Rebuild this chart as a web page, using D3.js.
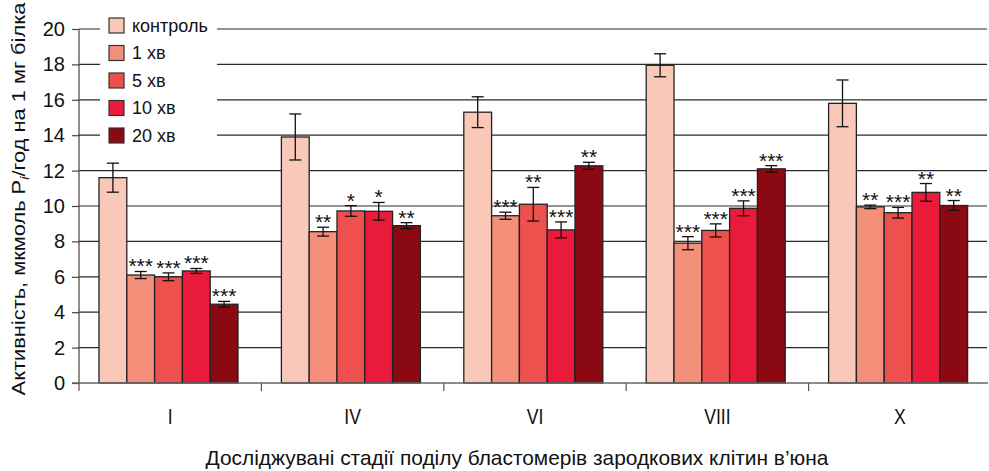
<!DOCTYPE html>
<html>
<head>
<meta charset="utf-8">
<script src="https://cdn.jsdelivr.net/npm/d3@7"></script>
<style>
  body { margin: 0; background: #fff; }
  svg { display: block; font-family: "Liberation Sans", Arial, sans-serif; }
</style>
</head>
<body>
<div id="chart"></div>
<script>
// stages (x categories) and series
const stages = ["I", "IV", "VI", "VIII", "X"];
const series = ["контроль", "1 хв", "5 хв", "10 хв", "20 хв"];
const colors = ["#f9c8b8", "#f48f7a", "#ee514d", "#ea1b3a", "#8a0912"];

// mean activity per series, one value per stage
const control = [11.6, 13.9, 15.3, 17.95, 15.8];
const min1    = [6.1, 8.55, 9.45, 7.9, 9.95];
const min5    = [6.0, 9.72, 10.1, 8.62, 9.62];
const min10   = [6.33, 9.7, 8.65, 9.87, 10.77];
const min20   = [4.45, 8.89, 12.27, 12.1, 10.03];

// error bar half-widths
const errControl = [0.82, 1.3, 0.87, 0.65, 1.32];
const err1  = [0.2, 0.25, 0.2, 0.37, 0.1];
const err5  = [0.22, 0.3, 0.95, 0.37, 0.3];
const err10 = [0.14, 0.5, 0.45, 0.42, 0.5];
const err20 = [0.16, 0.17, 0.2, 0.18, 0.28];

// significance marks
const sig1  = ["***", "**", "***", "***", "**"];
const sig5  = ["***", "*", "**", "***", "***"];
const sig10 = ["***", "*", "***", "***", "**"];
const sig20 = ["***", "**", "**", "***", "**"];

const yTicks = [0, 2, 4, 6, 8, 10, 12, 14, 16, 18, 20];

const values = [control, min1, min5, min10, min20];
const errors = [errControl, err1, err5, err10, err20];
const sigs = [null, sig1, sig5, sig10, sig20];

const W = 989, H = 471;
const svg = d3.select("#chart").append("svg").attr("width", W).attr("height", H);

const x0 = d3.scaleBand().domain(stages).range([79, 991]);
const x1 = d3.scaleBand().domain(series).range([20, 159]);
const y = d3.scaleLinear().domain([0, 20]).range([383, 29]);

// grid lines
svg.append("g").selectAll("line").data(yTicks.filter(d => d > 0)).enter().append("line")
  .attr("x1", 79).attr("x2", 987)
  .attr("y1", d => y(d)).attr("y2", d => y(d))
  .attr("stroke", "#2a2a2a").attr("stroke-width", 1.2);

// y axis
const yAxis = svg.append("g").attr("transform", "translate(79,0)")
  .call(d3.axisLeft(y).tickValues(yTicks).tickSize(7).tickPadding(7));
yAxis.select(".domain").attr("stroke", "#444").attr("stroke-width", 1.2)
  .attr("d", "M0," + y(0) + "V" + (y(20)) );
yAxis.selectAll(".tick line").attr("stroke", "#444").attr("stroke-width", 1.2);
yAxis.selectAll("text").attr("font-size", 20).attr("fill", "#111")
  .attr("font-family", "Liberation Sans, Arial, sans-serif");

// legend background (covers grid)
const legend = svg.append("g").attr("transform", "translate(100,11)");
legend.append("rect").attr("x", 0).attr("y", 0).attr("width", 117).attr("height", 138).attr("fill", "#fff");
series.forEach((s, i) => {
  const g = legend.append("g").attr("transform", "translate(9," + (7 + i * 27.5) + ")");
  g.append("rect").attr("width", 15).attr("height", 15)
    .attr("fill", colors[i]).attr("stroke", "#333").attr("stroke-width", 1.2);
  g.append("text").attr("x", 23).attr("y", 13.5).attr("font-size", 18).attr("fill", "#111").text(s);
});

// bars
const groups = svg.append("g").selectAll("g").data(stages).enter().append("g")
  .attr("transform", d => "translate(" + x0(d) + ",0)");

groups.each(function(stage, si) {
  const g = d3.select(this);
  series.forEach((s, k) => {
    const v = values[k][si], e = errors[k][si];
    const bx = x1(s), bw = x1.bandwidth();
    g.append("rect").attr("x", bx).attr("y", y(v)).attr("width", bw).attr("height", y(0) - y(v))
      .attr("fill", colors[k]).attr("stroke", "#222").attr("stroke-width", 1.3);
    const cx = bx + bw / 2;
    g.append("line").attr("x1", cx).attr("x2", cx).attr("y1", y(v + e)).attr("y2", y(v - e))
      .attr("stroke", "#111").attr("stroke-width", 1.3);
    [v + e, v - e].forEach(t => {
      g.append("line").attr("x1", cx - 6).attr("x2", cx + 6).attr("y1", y(t)).attr("y2", y(t))
        .attr("stroke", "#111").attr("stroke-width", 1.3);
    });
    if (sigs[k]) {
      g.append("text").attr("x", cx).attr("y", y(v + e) + 2)
        .attr("text-anchor", "middle").attr("font-size", 21).attr("fill", "#111")
        .text(sigs[k][si]);
    }
  });
});

// x axis
const xAxis = svg.append("g").attr("transform", "translate(0,383)")
  .call(d3.axisBottom(x0).tickSize(0).tickPadding(25));
xAxis.select(".domain").attr("stroke", "#666").attr("stroke-width", 1.3)
  .attr("d", "M72,0H988");
// narrow labels, scaled around tick position
xAxis.selectAll(".tick text").attr("font-size", 22).attr("fill", "#111")
  .attr("transform", "scale(0.8,1)");

svg.append("g").selectAll("line").data(stages).enter().append("line")
  .attr("x1", d => x0(d)).attr("x2", d => x0(d))
  .attr("y1", 383).attr("y2", 391)
  .attr("stroke", "#555").attr("stroke-width", 1.2);

// axis titles
svg.append("text").attr("transform", "translate(517,465) scale(1.045,1)").attr("text-anchor", "middle")
  .attr("font-size", 20).attr("fill", "#111")
  .text("Досліджувані стадії поділу бластомерів зародкових клітин в’юна");

const yt = svg.append("text").attr("transform", "translate(25,199) rotate(-90) scale(1.15,1)")
  .attr("text-anchor", "middle").attr("font-size", 19).attr("fill", "#111");
yt.append("tspan").text("Активність, мкмоль P");
yt.append("tspan").attr("font-size", 13).attr("font-style", "italic").attr("dy", 4).text("i");
yt.append("tspan").attr("dy", -4).text("/год на 1 мг білка");
</script>
</body>
</html>
